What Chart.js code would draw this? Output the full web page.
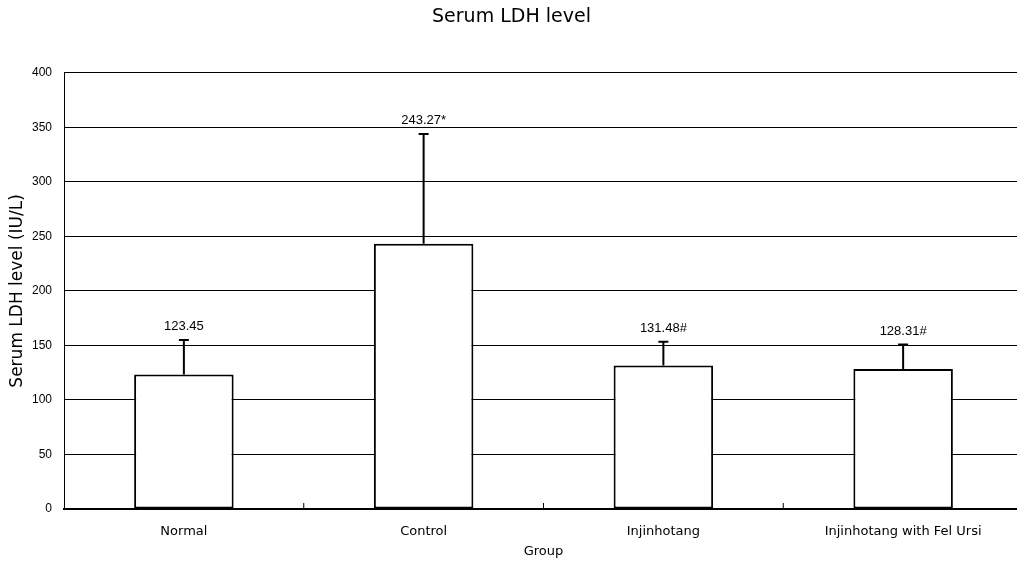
<!DOCTYPE html>
<html>
<head>
<meta charset="utf-8">
<script src="https://cdn.jsdelivr.net/npm/chart.js@4/dist/chart.umd.min.js"></script>
<style>
  body { margin: 0; background: #fff; overflow: hidden; }
</style>
</head>
<body>
<canvas id="chart" width="1023" height="565"></canvas>
<script>
// chart data
const groups = ['Normal', 'Control', 'Injinhotang', 'Injinhotang with Fel Ursi'];
const ldhMeans = [123.45, 243.27, 131.48, 128.31];
const ldhSD = [31.6, 100.5, 21.8, 22.5];
const valueLabels = ['123.45', '243.27*', '131.48#', '128.31#'];
const yTicks = [0, 50, 100, 150, 200, 250, 300, 350, 400];

const FONT = '"Liberation Sans", Arial, sans-serif';
const WIDE = '"DejaVu Sans", sans-serif';

// draws the SD whiskers + value labels, and the little ticks between groups
const errorBars = {
    id: 'errorBars',
    afterDatasetsDraw(chart) {
        const ctx = chart.ctx;
        const y = chart.scales.y;
        const x = chart.scales.x;
        const meta = chart.getDatasetMeta(0);
        ctx.save();
        ctx.strokeStyle = '#000';
        ctx.lineWidth = 2;
        meta.data.forEach(function (bar, i) {
            let top = y.getPixelForValue(ldhMeans[i] + ldhSD[i]);
            let base = y.getPixelForValue(ldhMeans[i]);
            ctx.beginPath();
            ctx.moveTo(bar.x, base);
            ctx.lineTo(bar.x, top);
            ctx.moveTo(bar.x - 5, top);
            ctx.lineTo(bar.x + 5, top);
            ctx.stroke();
            ctx.fillStyle = '#000';
            ctx.font = '13px ' + FONT;
            ctx.textAlign = 'center';
            ctx.textBaseline = 'bottom';
            ctx.fillText(valueLabels[i], bar.x, top - 7);
        });
        // small upward ticks at group boundaries
        ctx.lineWidth = 1;
        let bottom = chart.chartArea.bottom;
        for (let i = 1; i < groups.length; i++) {
            let bx = (x.getPixelForTick(i - 1) + x.getPixelForTick(i)) / 2;
            ctx.beginPath();
            ctx.moveTo(bx, bottom);
            ctx.lineTo(bx, bottom - 6);
            ctx.stroke();
        }
        ctx.restore();
    }
};

let config = {
    type: 'bar',
    data: {
        labels: groups,
        datasets: [{
            data: ldhMeans,
            backgroundColor: '#fff',
            borderColor: '#000',
            borderWidth: 2,
            borderSkipped: false,
            barPercentage: 0.415,
            categoryPercentage: 1
        }]
    },
    options: {
        responsive: false,
        animation: false,
        layout: { padding: 0 },
        plugins: {
            legend: { display: false },
            tooltip: { enabled: false },
            title: {
                display: true,
                text: 'Serum LDH level',
                color: '#000',
                font: { family: WIDE, size: 19, weight: 'normal' },
                padding: { top: 6, bottom: 44 }
            }
        },
        scales: {
            x: {
                afterFit: function (s) { s.height = 56; },
                grid: { display: false },
                border: { display: true, color: '#000', width: 2 },
                ticks: {
                    color: '#000',
                    font: { family: WIDE, size: 13 },
                    padding: 7
                },
                title: {
                    display: true,
                    text: 'Group',
                    color: '#000',
                    font: { family: WIDE, size: 13 },
                    padding: { top: 2, bottom: 6 }
                }
            },
            y: {
                min: 0,
                max: 400,
                afterFit: function (s) { s.width = 64; },
                afterBuildTicks: function (s) {
                    s.ticks = yTicks.map(function (v) { return { value: v }; });
                },
                grid: { color: '#000', lineWidth: 1, drawTicks: false },
                border: { display: true, color: '#000', width: 1 },
                ticks: {
                    color: '#000',
                    font: { family: FONT, size: 12 },
                    padding: 12
                },
                title: {
                    display: true,
                    text: 'Serum LDH level (IU/L)',
                    color: '#000',
                    font: { family: WIDE, size: 17 },
                    padding: { top: 7, bottom: 2 }
                }
            }
        }
    },
    plugins: [errorBars]
};

let myChart = new Chart(document.getElementById('chart'), config);
</script>
</body>
</html>
